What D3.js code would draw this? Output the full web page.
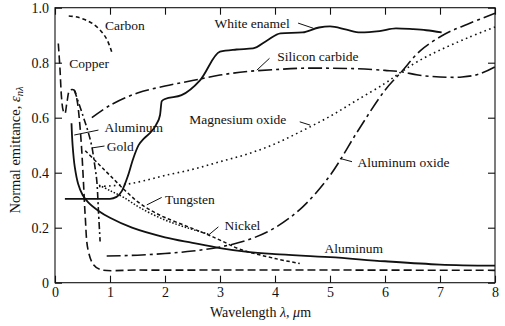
<!DOCTYPE html>
<html><head><meta charset="utf-8">
<script src="https://cdn.jsdelivr.net/npm/d3@7"></script>
<style>
html,body{margin:0;padding:0;background:#fff;}
svg text{font-family:"Liberation Serif","Times New Roman",serif;fill:#111;}
</style></head>
<body>
<svg id="c" width="505" height="326"></svg>
<script>
// ---- data (λ in µm, normal emittance) ----
const xTicks = [0,1,2,3,4,5,6,7,8];
const yTicks = [0,0.2,0.4,0.6,0.8,1.0];

const carbon = [[0.25,0.97],[0.4,0.966],[0.55,0.956],[0.7,0.94],[0.85,0.912],[0.95,0.882],[1.03,0.84]];
const copper = [[0.06,0.87],[0.09,0.78],[0.12,0.67],[0.15,0.625],[0.18,0.615],[0.22,0.66],[0.27,0.70],[0.35,0.70],[0.4,0.665],[0.44,0.6],[0.48,0.5],[0.515,0.375],[0.55,0.24],[0.6,0.12],[0.7,0.065],[0.82,0.048],[1.5,0.046],[3,0.046],[5,0.046],[8,0.045]];
const gold = [[0.35,0.70],[0.42,0.66],[0.52,0.6],[0.6,0.55],[0.67,0.495],[0.72,0.43],[0.76,0.37],[0.79,0.26],[0.82,0.15]];
const aluminum = [[0.3,0.58],[0.32,0.5],[0.36,0.42],[0.42,0.36],[0.5,0.32],[0.6,0.293],[0.8,0.26],[1.0,0.236],[1.4,0.2],[2.0,0.165],[2.5,0.145],[3.0,0.126],[3.5,0.112],[4.0,0.104],[5.0,0.093],[6.0,0.078],[7.0,0.066],[8.0,0.062]];
const aluminumOxide = [[0.94,0.097],[1.5,0.1],[2.0,0.106],[2.5,0.115],[3.0,0.13],[3.5,0.155],[4.0,0.2],[4.5,0.275],[5.0,0.39],[5.5,0.55],[6.0,0.7],[6.3,0.767],[6.65,0.845],[7.1,0.905],[7.5,0.94],[8.0,0.98]];
const siliconCarbide = [[0.67,0.6],[1.0,0.645],[1.5,0.69],[2.0,0.715],[2.5,0.735],[3.0,0.755],[3.5,0.768],[4.0,0.775],[4.5,0.78],[5.0,0.78],[5.5,0.778],[6.0,0.772],[6.3,0.767],[6.6,0.755],[7.0,0.748],[7.4,0.748],[7.7,0.758],[8.0,0.785]];
const whiteEnamel = [[0.18,0.305],[1.0,0.305],[1.12,0.312],[1.22,0.335],[1.32,0.385],[1.42,0.45],[1.52,0.5],[1.62,0.525],[1.73,0.545],[1.84,0.575],[1.91,0.61],[1.94,0.66],[2.0,0.668],[2.3,0.682],[2.64,0.737],[3.0,0.84],[3.3,0.848],[3.6,0.852],[3.85,0.88],[4.1,0.907],[4.5,0.91],[4.8,0.928],[5.0,0.932],[5.3,0.92],[5.55,0.91],[5.9,0.915],[6.2,0.925],[6.5,0.922],[6.75,0.918],[7.03,0.91]];
const magnesiumOxide = [[0.8,0.35],[1.0,0.352],[1.3,0.358],[1.6,0.37],[2.0,0.39],[2.5,0.412],[3.0,0.44],[3.5,0.468],[4.0,0.505],[4.5,0.553],[5.0,0.605],[5.5,0.665],[6.0,0.725],[6.3,0.767],[6.6,0.805],[7.0,0.846],[7.5,0.89],[8.0,0.93]];
const tungsten = [[0.55,0.48],[0.8,0.43],[1.0,0.39],[1.25,0.34],[1.5,0.295],[1.75,0.262],[2.0,0.237],[2.4,0.205],[2.75,0.177],[3.0,0.155],[3.36,0.122],[4.0,0.088],[4.45,0.07]];
const nickel = [[0.8,0.355],[1.0,0.335],[1.25,0.31],[1.55,0.272],[2.0,0.228],[2.4,0.2],[2.8,0.176]];

const series = [
  {name:"Carbon", data:carbon, dash:"4,3", w:1.6},
  {name:"Copper", data:copper, dash:"8,4", w:1.6},
  {name:"Gold", data:gold, dash:"7,3,2,3", w:1.6},
  {name:"Aluminum", data:aluminum, dash:null, w:1.8},
  {name:"Aluminum oxide", data:aluminumOxide, dash:"14,4,3,4", w:1.6},
  {name:"Silicon carbide", data:siliconCarbide, dash:"14,4,3,4", w:1.6},
  {name:"White enamel", data:whiteEnamel, dash:null, w:1.8},
  {name:"Magnesium oxide", data:magnesiumOxide, dash:"1.6,3.4", w:1.6},
  {name:"Tungsten", data:tungsten, dash:"3.5,2.5", w:1.5},
  {name:"Nickel", data:nickel, dash:"1.5,1.8", w:1.5}
];

// labels: text, data-anchored position
const labels = [
  {t:"Carbon", x:0.91, y:0.92},
  {t:"Copper", x:0.26, y:0.78},
  {t:"White enamel", x:2.9, y:0.925},
  {t:"Silicon carbide", x:4.04, y:0.807},
  {t:"Magnesium oxide", x:2.44, y:0.577},
  {t:"Aluminum", x:0.9, y:0.547},
  {t:"Gold", x:0.94, y:0.48},
  {t:"Tungsten", x:2.0, y:0.288},
  {t:"Nickel", x:3.08, y:0.192},
  {t:"Aluminum oxide", x:5.5, y:0.42},
  {t:"Aluminum", x:4.9, y:0.107}
];
const leaders = [
  [[4.42,0.944],[4.7,0.925]],
  [[3.9,0.816],[3.67,0.773]],
  [[4.45,0.585],[4.64,0.573]],
  [[0.35,0.537],[0.79,0.555]],
  [[0.67,0.49],[0.9,0.497]],
  [[1.67,0.283],[1.94,0.31]],
  [[2.79,0.173],[2.97,0.203]],
  [[5.18,0.452],[5.4,0.44]]
];

const W=505,H=326, L=55,R=495,T=7.7,B=282.7;
const x = d3.scaleLinear().domain([0,8]).range([L,R]);
const y = d3.scaleLinear().domain([0,1]).range([B,T]);
const svg = d3.select("#c");

// frame
svg.append("rect").attr("x",L).attr("y",T).attr("width",R-L).attr("height",B-T)
  .attr("fill","none").attr("stroke","#111").attr("stroke-width",1.1);

const fmtY = d=> d===0 ? "0" : d3.format(".1f")(d);
const gB = svg.append("g").attr("transform",`translate(0,${B})`)
  .call(d3.axisBottom(x).tickValues(xTicks).tickSize(-7).tickSizeOuter(0).tickPadding(4).tickFormat(d3.format("d")));
const gL = svg.append("g").attr("transform",`translate(${L},0)`)
  .call(d3.axisLeft(y).tickValues(yTicks).tickSize(-7).tickSizeOuter(0).tickPadding(6).tickFormat(fmtY));
const gT = svg.append("g").attr("transform",`translate(0,${T})`)
  .call(d3.axisTop(x).tickValues(xTicks).tickSize(-7).tickSizeOuter(0).tickFormat(""));
const gR = svg.append("g").attr("transform",`translate(${R},0)`)
  .call(d3.axisRight(y).tickValues(yTicks).tickSize(-7).tickSizeOuter(0).tickFormat(""));
[gB,gL,gT,gR].forEach(g=>{
  g.select(".domain").remove();
  g.selectAll("line").attr("stroke","#111").attr("stroke-width",1.1);
  g.selectAll("text").attr("font-family","Liberation Serif").attr("font-size",14).attr("fill","#111");
});

// curves
const line = d3.line().x(d=>x(d[0])).y(d=>y(d[1])).curve(d3.curveCatmullRom.alpha(0.5));
const lineW = d3.line().x(d=>x(d[0])).y(d=>y(d[1])).curve(d3.curveMonotoneX);
series.forEach(s=>{
  svg.append("path").attr("d", (s.name==="White enamel"? lineW: line)(s.data))
    .attr("fill","none").attr("stroke","#111").attr("stroke-width",s.w)
    .attr("stroke-dasharray",s.dash).attr("stroke-linejoin","round");
});

// leaders
const ll = d3.line().x(d=>x(d[0])).y(d=>y(d[1]));
leaders.forEach(p=>svg.append("path").attr("d",ll(p)).attr("stroke","#111").attr("stroke-width",1).attr("fill","none"));

// labels
labels.forEach(l=>svg.append("text").attr("x",x(l.x)).attr("y",y(l.y)).attr("font-size",13.5).text(l.t));

// axis titles
const xt = svg.append("text").attr("x",210).attr("y",317).attr("font-size",14);
xt.append("tspan").text("Wavelength ");
xt.append("tspan").attr("font-style","italic").text("λ");
xt.append("tspan").text(", ");
xt.append("tspan").attr("font-style","italic").text("μ");
xt.append("tspan").text("m");

const yt = svg.append("text").attr("transform","translate(19.5,150) rotate(-90)").attr("text-anchor","middle").attr("font-size",14.5);
yt.append("tspan").text("Normal emittance, ");
yt.append("tspan").attr("font-style","italic").text("ε");
yt.append("tspan").attr("font-style","italic").attr("font-size",10.5).attr("dy",3).text("nλ");
</script>
</body></html>
